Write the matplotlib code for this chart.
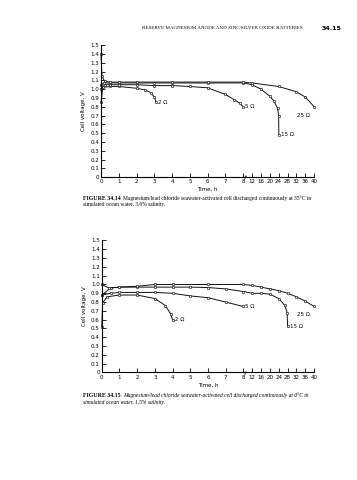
import numpy as np
import matplotlib
matplotlib.use('Agg')
import matplotlib.pyplot as plt

# x axis: hours 0-8 linear, then 8-40 compressed (4 h per half unit)
x_ticks = [0, 1, 2, 3, 4, 5, 6, 7, 8, 12, 16, 20, 24, 28, 32, 36, 40]
y_ticks = [0, 0.1, 0.2, 0.3, 0.4, 0.5, 0.6, 0.7, 0.8, 0.9, 1.0, 1.1, 1.2, 1.3, 1.4, 1.5]
y_tick_labels = ['0', '0.1', '0.2', '0.3', '0.4', '0.5', '0.6', '0.7', '0.8', '0.9',
                 '1.0', '1.1', '1.2', '1.3', '1.4', '1.5']

# FIGURE 34.14 - 35 C, 3.6% salinity
hot_labels = ['2 Ω', '5 Ω', '15 Ω', '25 Ω']
hot_t = [
    [0, 0.1, 0.5, 1, 2, 2.5, 2.8, 3.0, 3.1],
    [0, 0.2, 0.5, 1, 2, 3, 4, 5, 6, 7, 7.5, 7.8, 8],
    [0, 0.15, 0.5, 1, 2, 3, 4, 6, 8, 12, 16, 20, 22, 23.5, 24, 24.1],
    [0, 0.05, 0.2, 0.5, 1, 2, 4, 6, 8, 12, 24, 32, 36, 40],
]
hot_v = [
    [0.85, 1.02, 1.03, 1.03, 1.01, 0.99, 0.96, 0.91, 0.85],
    [1.00, 1.05, 1.05, 1.05, 1.05, 1.04, 1.04, 1.03, 1.015, 0.94, 0.88, 0.84, 0.80],
    [1.05, 1.07, 1.07, 1.07, 1.07, 1.07, 1.07, 1.07, 1.07, 1.05, 1.00, 0.92, 0.86, 0.78, 0.70, 0.48],
    [1.40, 1.15, 1.09, 1.08, 1.08, 1.08, 1.08, 1.08, 1.08, 1.07, 1.03, 0.97, 0.91, 0.80],
]

# FIGURE 34.15 - 0 C, 1.5% salinity
cold_labels = ['2 Ω', '5 Ω', '15 Ω', '25 Ω']
cold_t = [
    [0, 0.05, 0.3, 1, 2, 3, 3.6, 3.9, 4],
    [0, 0.5, 1, 2, 3, 4, 5, 6, 7, 8],
    [0, 0.5, 1, 2, 3, 4, 5, 6, 7, 8, 12, 16, 20, 24, 26.7, 27.8, 28],
    [0, 0.4, 1, 2, 3, 4, 6, 8, 12, 16, 20, 24, 28, 32, 36, 40],
]
cold_v = [
    [0.52, 0.79, 0.86, 0.88, 0.88, 0.84, 0.76, 0.66, 0.60],
    [0.88, 0.90, 0.91, 0.91, 0.91, 0.90, 0.87, 0.85, 0.80, 0.75],
    [0.88, 0.96, 0.97, 0.97, 0.97, 0.97, 0.97, 0.965, 0.95, 0.92, 0.90, 0.90, 0.89, 0.84, 0.765, 0.68, 0.525],
    [1.00, 0.96, 0.97, 0.98, 1.00, 1.00, 1.00, 1.00, 0.99, 0.97, 0.95, 0.93, 0.90, 0.86, 0.81, 0.75],
]


def fwd(t):
    t = np.asarray(t, dtype=float)
    return np.where(t <= 8, t, 8 + (t - 8) / 8)


def inv(x):
    x = np.asarray(x, dtype=float)
    return np.where(x <= 8, x, 8 + (x - 8) * 8)


# offsets are for the end labels, in points
def draw_panel(ax, ts, vs, labels, offsets):
    for t, v, lab, off in zip(ts, vs, labels, offsets):
        ax.plot(t, v, color='#111111', lw=0.7, marker='o', ms=1.7, mfc='white',
                mec='#111111', mew=0.45, clip_on=False)
        ax.annotate(lab, (t[-1], v[-1]), xytext=off, textcoords='offset points',
                    fontsize=4, va='center', ha='left', family='DejaVu Sans')
    ax.set_xscale('function', functions=(fwd, inv))
    ax.set_xlim(0, 40)
    ax.set_ylim(0, 1.5)
    ax.set_xticks(x_ticks)
    ax.set_xticklabels([str(x) for x in x_ticks])
    ax.set_yticks(y_ticks)
    ax.set_yticklabels(y_tick_labels)
    ax.tick_params(direction='in', length=3, width=0.6, labelsize=4, pad=1.5)
    for s in ['top', 'right']:
        ax.spines[s].set_visible(False)
    for s in ['left', 'bottom']:
        ax.spines[s].set_linewidth(0.8)
    ax.set_xlabel('Time, h', fontsize=4, labelpad=2)
    ax.set_ylabel('Cell voltage, V', fontsize=4, labelpad=3)
    # axis break mark between 8 and 12
    ax.text(9.3, 0, '≈', transform=ax.get_xaxis_transform(), fontsize=4,
            ha='center', va='center', rotation=60)


fig = plt.figure(figsize=(3.57, 4.8), dpi=100)

ax1 = fig.add_axes([0.283, 0.631, 0.597, 0.275])
draw_panel(ax1, hot_t, hot_v, hot_labels, [(1.5, 0), (1.5, 0), (1.5, 0), (-12, -6)])

ax2 = fig.add_axes([0.285, 0.224, 0.595, 0.275])
draw_panel(ax2, cold_t, cold_v, cold_labels, [(1.5, 0), (1.5, 0), (1.5, 0), (-12, -6)])

serif = 'Liberation Serif'
fig.text(0.398, 1 - 28 / 480, 'RESERVE MAGNESIUM ANODE AND ZINC/SILVER OXIDE BATTERIES',
         fontsize=3.6, family=serif, va='center', ha='left')
fig.text(0.902, 1 - 28 / 480, '34.15', fontsize=4.5, fontweight='bold', va='center', ha='left')

fig.text(0.232, 1 - 198 / 480, 'FIGURE 34.14', fontsize=4.2, family=serif,
         fontweight='bold', va='center', ha='left')
fig.text(0.345, 1 - 198 / 480,
         'Magnesium/lead chloride seawater-activated cell discharged continuously at 35°C in',
         fontsize=4.0, family=serif, va='center', ha='left')
fig.text(0.232, 1 - 205 / 480, 'simulated ocean water, 3.6% salinity.',
         fontsize=4.0, family=serif, va='center', ha='left')

fig.text(0.232, 1 - 395.5 / 480, 'FIGURE 34.15', fontsize=4.2, family=serif,
         fontweight='bold', va='center', ha='left')
fig.text(0.345, 1 - 395.5 / 480,
         'Magnesium/lead chloride seawater-activated cell discharged continuously at 0°C in',
         fontsize=4.0, family=serif, style='italic', va='center', ha='left')
fig.text(0.232, 1 - 402.5 / 480, 'simulated ocean water, 1.5% salinity.',
         fontsize=4.0, family=serif, style='italic', va='center', ha='left')

fig.savefig('out.png', dpi=100)
